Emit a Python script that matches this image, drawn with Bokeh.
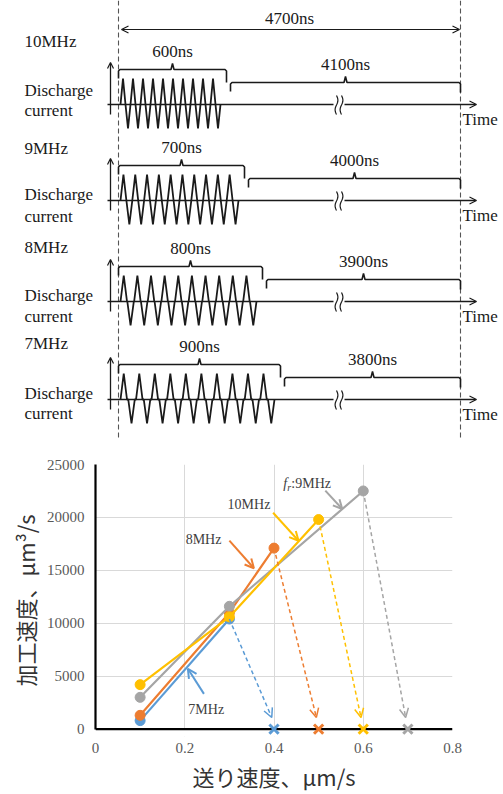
import numpy as np
from bokeh.plotting import figure
from bokeh.models import Range1d, Arrow, OpenHead, FixedTicker, CustomJSTickFormatter, BoxAnnotation
from bokeh.layouts import column
from bokeh.core.properties import value
from bokeh.embed import file_html
from bokeh.resources import INLINE

SERIF = "Liberation Serif"
CJK = "Noto Sans CJK JP"

# ---------------- data: discharge pulse schematic ----------------
freq_labels = ["10MHz", "9MHz", "8MHz", "7MHz"]
on_time_ns = [600, 700, 800, 900]
off_time_ns = [4100, 4000, 3900, 3800]
total_ns = 4700
pulses_per_burst = [10, 10, 10, 10]

# ---------------- data: machining rate vs feed ----------------
series_names = ["7MHz", "8MHz", "9MHz", "10MHz"]
feed_7 = [0.1, 0.3]
rate_7 = [800, 10400]
feed_8 = [0.1, 0.3, 0.4]
rate_8 = [1300, 11000, 17100]
feed_9 = [0.1, 0.3, 0.6]
rate_9 = [3000, 11600, 22500]
feed_10 = [0.1, 0.3, 0.5]
rate_10 = [4200, 10600, 19800]
limit_feed = [0.4, 0.5, 0.7, 0.6]   # feed where machining failed (x marks)
x_ticks = [0, 0.2, 0.4, 0.6, 0.8]
y_ticks = [0, 5000, 10000, 15000, 20000, 25000]

# ================= top: schematic =================
top = figure(width=503, height=440, x_range=Range1d(0, 503), y_range=Range1d(440, 0),
             output_backend="svg", toolbar_location=None,
             x_axis_location=None, y_axis_location=None, min_border=0)
top.grid.grid_line_color = None
top.outline_line_color = None
top.background_fill_color = "white"
top.frame_align = False

X0 = 118.0          # time zero
X_END = 460.0       # end of period (after axis break)
PX_PER_NS = 0.18    # scale used for the burst part
ROW_BASE = [104, 200, 301, 399]
LABEL_Y = [41, 148, 247, 343]
DIS_Y = [90, 194, 295, 393]
CUR_Y = [110, 216, 316, 413]
INK = "#1a1a1a"

def txt(p, x, y, s, size="17px", align="left", baseline="middle", style="normal", color=INK):
    p.text(x=[x], y=[y], text=[s], text_font=value(SERIF), text_font_size=size,
           text_align=align, text_baseline=baseline, text_font_style=style, text_color=color)

def brace(p, x1, x2, top_y, drop_l, drop_r, tick):
    xc = (x1 + x2) / 2
    xs = [x1, x1, x1 + 1.5, xc - 1.5, xc, xc + 1.5, x2 - 1.5, x2, x2]
    ys = [top_y + drop_l, top_y + 1.5, top_y, top_y, top_y - tick, top_y, top_y, top_y + 1.5, top_y + drop_r]
    p.line(xs, ys, line_color=INK, line_width=1.6)

# dashed period marks
for xv in (X0, X_END):
    top.line([xv, xv], [0, 440], line_color="#555555", line_width=1.1, line_dash="5 3")

# total period arrow
top.add_layout(Arrow(start=OpenHead(size=7, line_width=1.2, line_color=INK),
                     end=OpenHead(size=7, line_width=1.2, line_color=INK),
                     x_start=X0 + 3, y_start=29, x_end=X_END - 1, y_end=29,
                     line_width=1.2, line_color=INK))
txt(top, (X0 + X_END) / 2, 18, f"{total_ns}ns", align="center")

for i, lab in enumerate(freq_labels):
    b = ROW_BASE[i]
    on_end = X0 + on_time_ns[i] * PX_PER_NS
    burst_end = on_end - 6
    xs0 = X0 + 2
    n = pulses_per_burst[i]
    P = (burst_end - xs0) / n
    w = P / 2
    if w > 6.5:
        w = 6.5
        P = (burst_end - xs0 - w) / (n - 0.5)

    # labels
    txt(top, 24, LABEL_Y[i], lab)
    txt(top, 24, DIS_Y[i], "Discharge", baseline="alphabetic")
    txt(top, 24, CUR_Y[i], "current", baseline="alphabetic")

    # vertical current axis
    top.add_layout(Arrow(end=OpenHead(size=6, line_width=1.2, line_color=INK),
                         x_start=110, y_start=b + 10, x_end=110, y_end=b - 42,
                         line_width=1.3, line_color=INK))
    # time axis with break
    brk = 336
    top.line([107, brk - 3], [b, b], line_color=INK, line_width=1.4)
    top.add_layout(Arrow(end=OpenHead(size=7, line_width=1.2, line_color=INK),
                         x_start=brk + 8, y_start=b, x_end=476, y_end=b,
                         line_width=1.4, line_color=INK))
    yy = np.linspace(b - 9, b + 10, 20)
    for dx in (0, 5):
        top.line(brk + dx + 1.4 * np.sin((yy - (b - 9)) / 19 * 2 * np.pi), yy,
                 line_color=INK, line_width=1.2)
    txt(top, 462, b + 15, "Time")

    # pulses
    wx, wy = [xs0], [b]
    for k in range(n):
        x = xs0 + k * P
        wx += [x, x + w / 2, x + w, x + P / 2, x + P / 2 + w / 2, x + P / 2 + w]
        wy += [b, b - 26, b, b, b + 24, b]
    top.line(wx, wy, line_color=INK, line_width=1.8)

    # on-time brace
    brace(top, X0, on_end, b - 35, 9, 13, 6)
    txt(top, (X0 + on_end) / 2, b - 53, f"{on_time_ns[i]}ns", align="center")
    # off-time brace
    off_start = on_end + 4
    brace(top, off_start, X_END, b - 22, 9, 10, 6)
    txt(top, (off_start + X_END) / 2, b - 40, f"{off_time_ns[i]}ns", align="center")

# ================= bottom: chart =================
Y_PAD = -700   # small room below zero so the x marks on the axis are not clipped
bot = figure(width=503, height=354, x_range=Range1d(0, 0.8), y_range=Range1d(Y_PAD, 25000),
             output_backend="svg", toolbar_location=None,
             min_border_left=95, min_border_right=51, min_border_top=24, min_border_bottom=58)
bot.frame_align = False
bot.outline_line_color = None
bot.grid.grid_line_color = "#d9d9d9"
bot.grid.grid_line_width = 1
bot.xaxis.ticker = FixedTicker(ticks=x_ticks)
bot.yaxis.ticker = FixedTicker(ticks=y_ticks)
bot.xgrid.ticker = FixedTicker(ticks=x_ticks)
bot.ygrid.ticker = FixedTicker(ticks=y_ticks)
bot.xaxis.formatter = CustomJSTickFormatter(code="return tick == 0 ? '0' : tick.toFixed(1);")
bot.yaxis.formatter = CustomJSTickFormatter(code="return tick.toFixed(0);")
for ax in (bot.xaxis, bot.yaxis):
    ax.major_tick_line_color = None
    ax.minor_tick_line_color = None
    ax.major_tick_out = 0
    ax.major_tick_in = 0
    ax.axis_line_color = "black"
    ax.axis_line_width = 2.2
    ax.major_label_text_font = SERIF
    ax.major_label_text_font_size = "15px"
    ax.major_label_text_color = "#595959"
    ax.axis_label_text_font = CJK
    ax.axis_label_text_font_size = "22px"
    ax.axis_label_text_font_style = "normal"
    ax.axis_label_text_color = "#333333"
bot.xaxis.axis_line_color = None
bot.yaxis.bounds = (0, 25000)
bot.yaxis.major_label_standoff = 11
bot.xaxis.major_label_standoff = 6
bot.yaxis.axis_label = "加工速度、μm³/s"
bot.xaxis.axis_label = "送り速度、μm/s"
bot.yaxis.axis_label_standoff = 3
bot.xaxis.axis_label_standoff = 4

# white out the grid below zero, then draw the x axis line at zero
bot.add_layout(BoxAnnotation(bottom=Y_PAD, top=0, fill_color="white", fill_alpha=1,
                             line_color=None, level="underlay"))
bot.line([0, 0.8], [0, 0], line_color="black", line_width=2.2)

BLUE, ORANGE, GRAY, YELLOW = "#5B9BD5", "#ED7D31", "#A5A5A5", "#FFC000"
series = [(feed_7, rate_7, BLUE), (feed_8, rate_8, ORANGE),
          (feed_9, rate_9, GRAY), (feed_10, rate_10, YELLOW)]

# dashed arrows to failure feed and x marks
for (fx, fy, col), lim in zip(series, limit_feed):
    bot.add_layout(Arrow(end=OpenHead(size=9, line_width=1.5, line_color=col),
                         x_start=fx[-1], y_start=fy[-1], x_end=lim - 0.005, y_end=1100,
                         line_width=1.5, line_color=col, line_dash="4 3"))
    bot.scatter([lim], [0], marker="x", size=13, line_width=3, line_color=col)

for fx, fy, col in series:
    bot.line(fx, fy, line_color=col, line_width=2.2)
    bot.scatter(fx, fy, marker="circle", size=10, fill_color=col, line_color=col)

# annotations
ann = [("7MHz", 0.208, 1806, BLUE, (0.243, 3330), (0.207, 5700)),
       ("8MHz", 0.202, 17870, ORANGE, (0.300, 17800), (0.355, 15200)),
       ("10MHz", 0.296, 21200, YELLOW, (0.398, 20440), (0.455, 17800)),
       (None, 0.421, 23190, GRAY, (0.515, 22530), (0.553, 20800))]
for lab, lx, ly, col, (tx, ty), (hx, hy) in ann:
    bot.add_layout(Arrow(end=OpenHead(size=9, line_width=2, line_color=col),
                         x_start=tx, y_start=ty, x_end=hx, y_end=hy,
                         line_width=2, line_color=col))
    if lab is not None:
        bot.text(x=[lx], y=[ly], text=[lab], text_font=value(SERIF), text_font_size="14px",
                 text_align="left", text_baseline="middle", text_color="#404040")
    else:
        bot.text(x=[lx], y=[ly], text=["f"], text_font=value(SERIF), text_font_size="14px",
                 text_font_style="italic", text_align="left", text_baseline="middle",
                 text_color="#404040")
        bot.text(x=[lx], y=[ly], text=["r"], text_font=value(SERIF), text_font_size="10px",
                 text_font_style="italic", text_align="left", text_baseline="middle",
                 text_color="#404040", x_offset=4, y_offset=4)
        bot.text(x=[lx], y=[ly], text=[":9MHz"], text_font=value(SERIF), text_font_size="14px",
                 text_align="left", text_baseline="middle", text_color="#404040", x_offset=8)

layout = column(top, bot, spacing=0)
open("out.html", "w").write(file_html(layout, INLINE))
